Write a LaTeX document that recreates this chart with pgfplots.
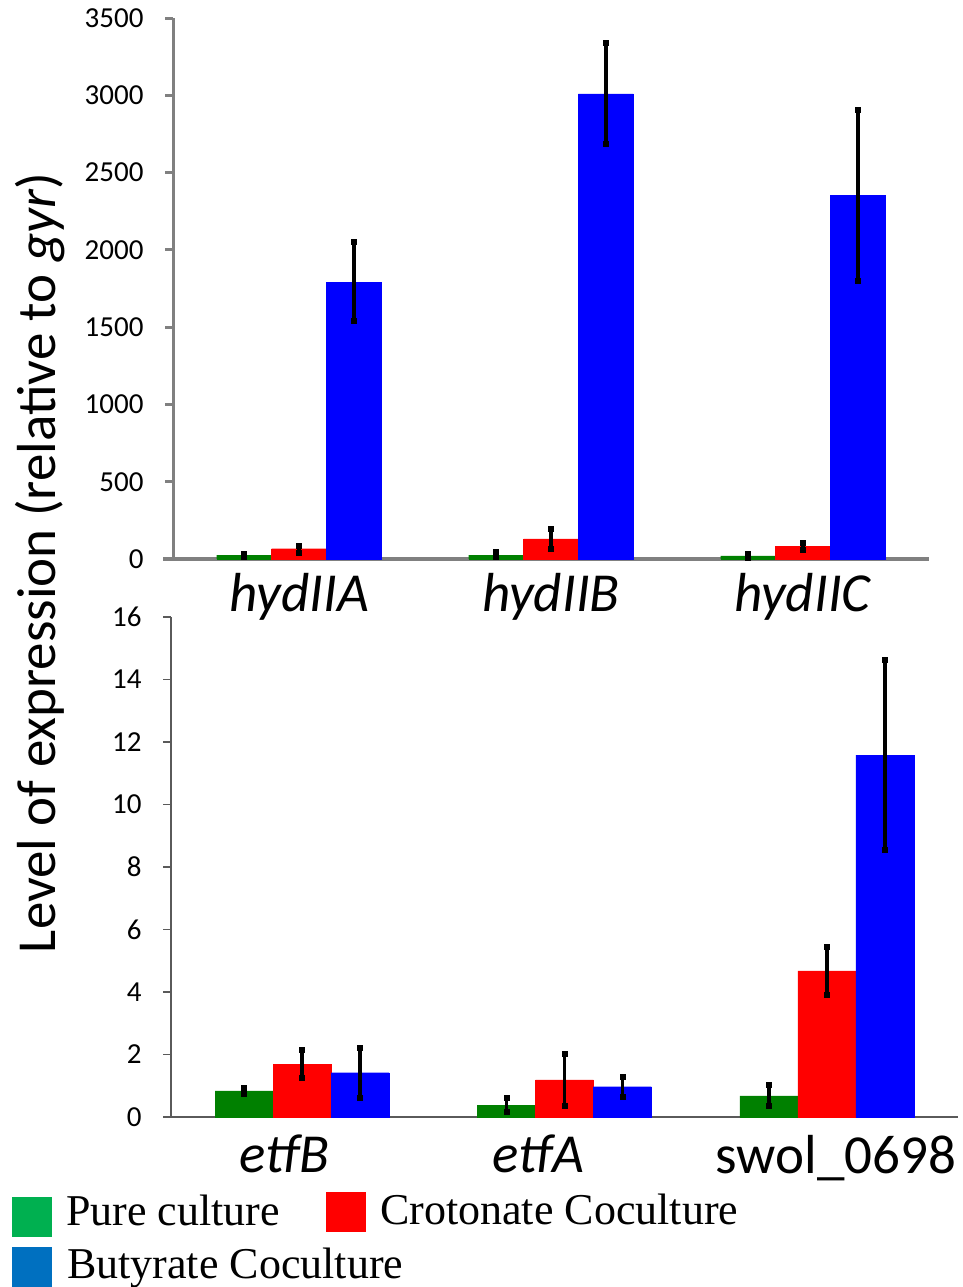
\documentclass[border=0pt]{standalone}
\usepackage{pgfplots}
\pgfplotsset{compat=1.18}
\usepackage{pgfplotstable}
\usepackage{fontspec}
\setmainfont{Carlito}
\newfontfamily\legendfont{Liberation Serif}
\definecolor{bgreen}{RGB}{0,128,0}
\definecolor{bred}{RGB}{255,0,0}
\definecolor{bblue}{RGB}{0,0,255}
\definecolor{lgreen}{RGB}{0,176,80}
\definecolor{lred}{RGB}{255,0,0}
\definecolor{lblue}{RGB}{0,112,192}
\definecolor{axgray}{RGB}{128,128,128}
\definecolor{axdark}{RGB}{90,90,90}

\pgfplotstableread{
x g gp gm r rp rm b bp bm
0 25 12 12 67 22 25 1792 258 250
1 25 22 13 131 67 62 3009 330 324
2 20 12 10 82 25 25 2352 556 550
}\toptable

\pgfplotstableread{
x g gp gm r rp rm b bp bm
0 0.835 0.10 0.10 1.69 0.47 0.44 1.42 0.80 0.79
1 0.37 0.25 0.21 1.19 0.82 0.82 0.97 0.31 0.31
2 0.675 0.345 0.32 4.68 0.77 0.76 11.58 3.06 3.03
}\bottable

\pgfplotsset{
  mybars/.style={
    ybar=0pt,
    scale only axis,
    xmin=-0.5, xmax=2.5,
    ymin=0,
    axis x line*=bottom, axis y line*=left,
    tick align=outside,
    /pgf/number format/assume math mode=true,
    /pgf/number format/1000 sep={},
    yticklabel style={font=\fontsize{29}{34}\selectfont},
    xticklabel style={font=\fontsize{55}{62}\selectfont, inner sep=0pt},
    clip=false,
    /pgfplots/error bars/y dir=both,
    /pgfplots/error bars/y explicit,
    /pgfplots/error bars/error bar style={line width=3.5pt, draw=black},
    /pgfplots/error bars/error mark=square*,
    /pgfplots/error bars/error mark options={draw=black, fill=black, mark size=2.5pt, line width=0.5pt},
  },
}

\begin{document}
\begin{tikzpicture}[x=1pt,y=1pt]
\useasboundingbox (0,0) rectangle (962,-1287);

\begin{axis}[mybars,
  at={(173pt,-559pt)}, anchor=south west,
  width=756pt, height=541pt,
  bar width=0.218,
  ymax=3500, ytick={0,500,...,3500},
  xtick={0,1,2}, xticklabels={\textit{hydIIA},\textit{hydIIB},\textit{hydIIC}},
  x axis line style={axgray, line width=3.5pt, shorten <=-10pt},
  y axis line style={axgray, line width=3pt},
  ytick style={axgray, line width=3pt},
  xtick style={draw=none},
  major tick length=8pt,
  yticklabel style={xshift=-18pt},
  xticklabel style={yshift=-6pt},
]
\addplot[fill=bgreen, draw=bgreen, line width=0.1pt] table[x=x, y=g, y error plus=gp, y error minus=gm]{\toptable};
\addplot[fill=bred, draw=bred, line width=0.1pt] table[x=x, y=r, y error plus=rp, y error minus=rm]{\toptable};
\addplot[fill=bblue, draw=bblue, line width=0.1pt] table[x=x, y=b, y error plus=bp, y error minus=bm]{\toptable};
\end{axis}

\begin{axis}[mybars,
  at={(171pt,-1117pt)}, anchor=south west,
  width=787pt, height=500pt,
  bar width=0.221,
  ymax=16, ytick={0,2,...,16},
  xtick={0,1,2},
  xticklabels={\textit{etfB}\hspace*{36pt},\textit{etfA}\hspace*{52pt},\hspace*{18pt}swol\_0698},
  x axis line style={axdark, line width=1.3pt},
  y axis line style={axdark, line width=1.3pt},
  ytick style={axdark, line width=1.3pt},
  major tick length=8pt,
  xtick style={draw=none},
  extra x ticks={-0.5,0.5,1.5,2.5},
  extra x tick labels={},
  extra x tick style={tick style={draw=axdark, line width=1.3pt}, major tick length=13pt},
  yticklabel style={xshift=-18pt},
  xticklabel style={yshift=-10pt},
]
\addplot[fill=bgreen, draw=bgreen, line width=0.1pt] table[x=x, y=g, y error plus=gp, y error minus=gm]{\bottable};
\addplot[fill=bred, draw=bred, line width=0.1pt] table[x=x, y=r, y error plus=rp, y error minus=rm]{\bottable};
\addplot[fill=bblue, draw=bblue, line width=0.1pt] table[x=x, y=b, y error plus=bp, y error minus=bm]{\bottable};
\end{axis}

\node[rotate=90, font=\fontsize{55}{62}\selectfont] at (40,-563) {Level of expression (relative to \textit{gyr})};

% legend
\fill[lgreen] (12,-1197) rectangle (52,-1237);
\fill[lred] (326,-1192) rectangle (366,-1232);
\fill[lblue] (12,-1247) rectangle (52,-1287);
\node[anchor=base west, inner sep=0pt, font=\legendfont\fontsize{44}{50}\selectfont] at (66,-1225) {Pure culture};
\node[anchor=base west, inner sep=0pt, font=\legendfont\fontsize{44}{50}\selectfont] at (380,-1224) {Crotonate Coculture};
\node[anchor=base west, inner sep=0pt, font=\legendfont\fontsize{44}{50}\selectfont] at (67,-1278) {Butyrate Coculture};
\end{tikzpicture}
\end{document}
